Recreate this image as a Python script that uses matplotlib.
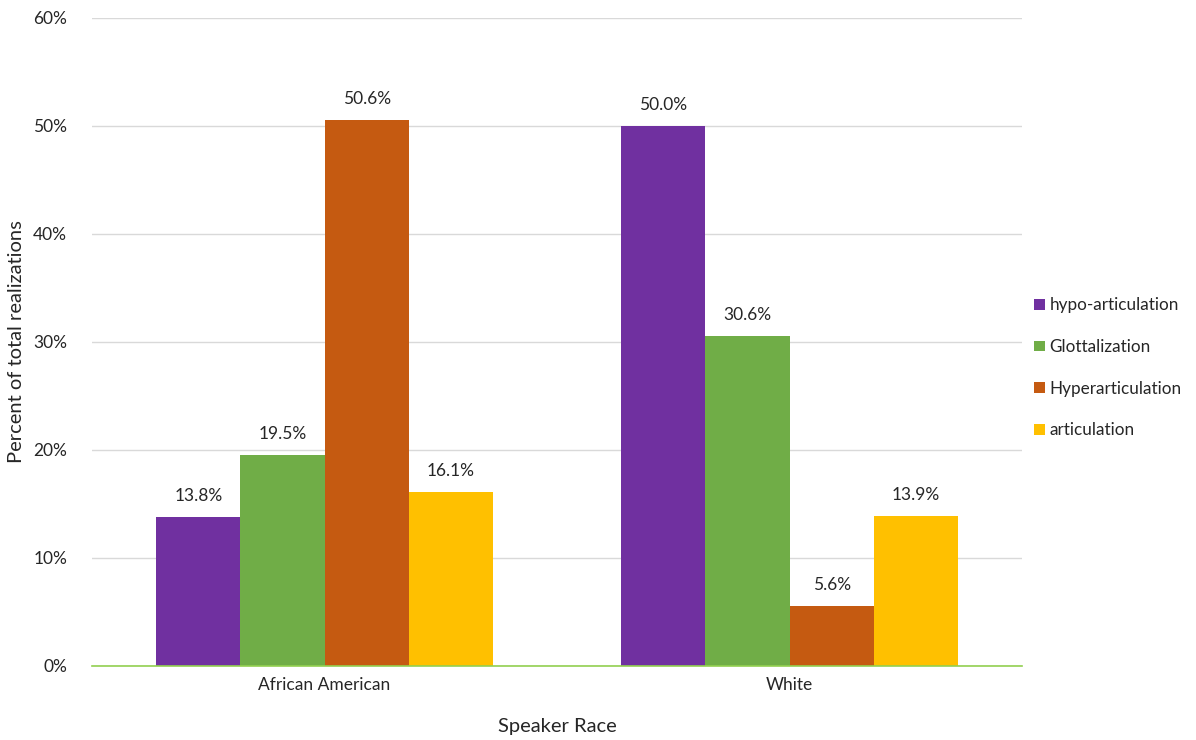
import matplotlib
matplotlib.use("Agg")
import matplotlib.pyplot as plt
import numpy as np
from matplotlib.patches import Patch

plt.rcParams['font.family'] = ['Lato', 'DejaVu Sans']

categories = ["African American", "White"]
series = ["hypo-articulation", "Glottalization", "Hyperarticulation", "articulation"]
values = [
    [13.8, 50.0],
    [19.5, 30.6],
    [50.6, 5.6],
    [16.1, 13.9],
]
colors = ["#7030A0", "#70AD47", "#C55A11", "#FFC000"]
yticks = [0, 10, 20, 30, 40, 50, 60]

fig = plt.figure(figsize=(11.96, 7.4), dpi=100)
ax = fig.add_axes([0.077, 0.1, 0.7775, 0.8757])

x = np.arange(len(categories))
bw = 0.181
for i, (s, vals, c) in enumerate(zip(series, values, colors)):
    pos = x + (i - 1.5) * bw
    bars = ax.bar(pos, vals, width=bw, color=c, label=s, zorder=3)
    for b, v in zip(bars, vals):
        ax.text(b.get_x() + b.get_width() / 2, v + 1.2, f"{v:.1f}%",
                ha="center", va="bottom", fontsize=12.5, color="#262626")

ax.set_xlim(-0.5, 1.5)
ax.set_ylim(0, 60)
ax.set_yticks(yticks)
ax.set_yticklabels([f"{t}%" for t in yticks], fontsize=12.5, color="#262626")
ax.set_xticks(x)
ax.set_xticklabels(categories, fontsize=12.5, color="#262626")
ax.tick_params(axis='both', length=0, pad=8)
ax.tick_params(axis='y', pad=18)
ax.yaxis.grid(True, color="#D9D9D9", linewidth=1, zorder=0)
for sp in ["top", "right", "left"]:
    ax.spines[sp].set_visible(False)
ax.spines["bottom"].set_color("#92D050")
ax.spines["bottom"].set_linewidth(1.2)
ax.spines["bottom"].set_zorder(4)

ax.set_ylabel("Percent of total realizations", fontsize=14.5, color="#262626", labelpad=6)
ax.set_xlabel("Speaker Race", fontsize=14.5, color="#262626", labelpad=18)

handles = [Patch(facecolor=c, label=s) for s, c in zip(series, colors)]
fig.legend(handles=handles, loc="center left", bbox_to_anchor=(0.852, 0.503),
           frameon=False, fontsize=12.3, handlelength=0.6, handleheight=0.6,
           handletextpad=0.3, labelspacing=1.5, labelcolor="#262626")

fig.savefig("out.png", dpi=100)
